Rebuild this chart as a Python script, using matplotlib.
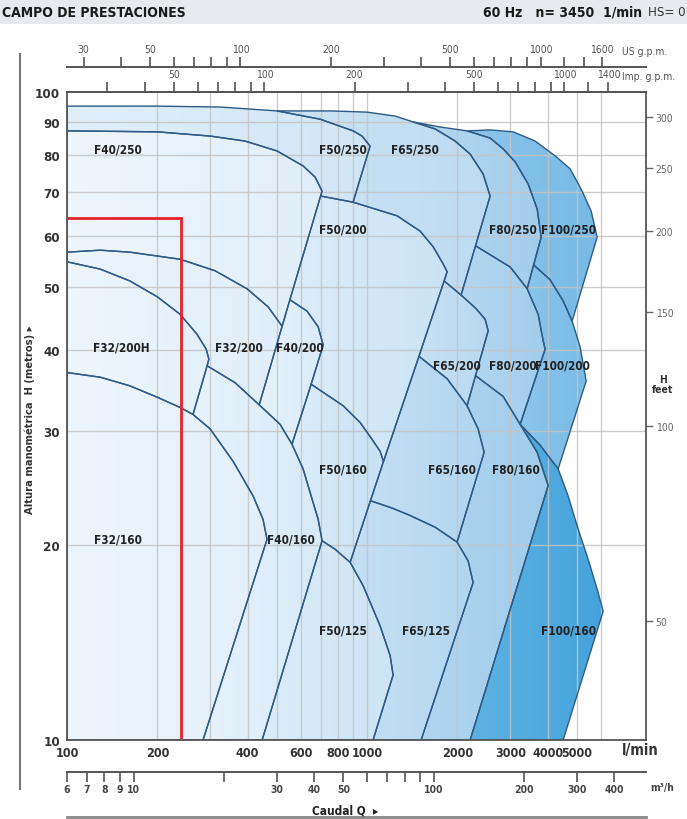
import numpy as np
import matplotlib
matplotlib.use('Agg')
import matplotlib.pyplot as plt
from matplotlib.patches import Polygon, Rectangle
from matplotlib.colors import LinearSegmentedColormap
from matplotlib.lines import Line2D
from matplotlib.ticker import NullLocator

plt.rcParams['font.family'] = ['DejaVu Sans']
plt.rcParams['font.stretch'] = 'condensed'

# chart ranges: flow Q in l/min, head H in m
q_min, q_max = 100, 8500
h_min, h_max = 10, 100

q_ticks = [100, 200, 400, 600, 800, 1000, 2000, 3000, 4000, 5000]
h_ticks = [10, 20, 30, 40, 50, 60, 70, 80, 90, 100]
q_grid = [200, 300, 400, 500, 600, 700, 800, 900, 1000, 2000, 3000, 4000, 5000, 6000]
h_grid = [20, 30, 40, 50, 60, 70, 80, 90]

us_gpm_ticks = [30, 40, 50, 60, 70, 80, 90, 100, 200, 300, 400, 500, 600, 700, 800, 900, 1000, 1200, 1400, 1600]
us_gpm_labels = [30, 50, 100, 200, 500, 1000, 1600]
imp_gpm_ticks = [30, 40, 50, 60, 70, 80, 90, 100, 200, 300, 400, 500, 600, 700, 800, 900, 1000, 1200, 1400]
imp_gpm_labels = [50, 100, 200, 500, 1000, 1400]
m3h_ticks = [6, 7, 8, 9, 10, 20, 30, 40, 50, 60, 70, 80, 90, 100, 200, 300, 400]
m3h_labels = [6, 7, 8, 9, 10, 30, 40, 50, 100, 200, 300, 400]
feet_ticks = [50, 100, 150, 200, 250, 300]

# duty point marked in red
duty_q, duty_h = 240, 64

# upper curves of each field (Q, H), left to right
top_f50_250 = [(100, 95.1), (200, 95.1), (324, 94.8), (501, 93.5), (697, 90.8), (898, 87.1), (962, 85.5), (1023, 82.5)]
top_f40_250 = [(100, 87.1), (200, 86.8), (300, 85.5), (392, 84.0), (501, 81.1), (612, 76.9), (671, 73.9), (708, 70.3)]
top_f65_250 = [(501, 93.5), (753, 93.5), (1000, 93.1), (1240, 91.8), (1424, 89.9), (1686, 87.7), (1965, 84.0),
               (2205, 80.2), (2436, 74.7), (2570, 69.1)]
top_f80_250 = [(1424, 89.9), (1752, 88.3), (2154, 87.1), (2570, 84.9), (2841, 81.7), (3115, 78.0), (3442, 72.1),
               (3687, 66.0), (3802, 59.7)]
top_f100_250 = [(2154, 87.1), (2570, 87.4), (3067, 86.8), (3631, 84.0), (4233, 79.7), (4750, 76.1), (5208, 70.3),
                (5580, 65.5), (5843, 59.7)]

top_f32_200h = [(100, 54.7), (129, 53.3), (162, 51.1), (200, 48.3), (238, 45.4), (271, 42.3), (291, 40.1), (297, 38.7)]
top_f32_200 = [(100, 56.6), (129, 57.0), (162, 56.6), (238, 55.2), (311, 53.0), (398, 49.7), (468, 46.6), (521, 43.5)]
top_f40_200 = [(553, 47.8), (631, 45.9), (687, 43.4), (714, 40.7)]
top_f50_200 = [(700, 69.1), (898, 67.6), (1259, 64.4), (1502, 61.0), (1660, 57.7), (1792, 54.3), (1848, 52.8)]
top_f65_200 = [(1806, 51.1), (2057, 48.6), (2308, 46.3), (2474, 44.6), (2532, 42.8)]
top_f80_200 = [(2298, 57.9), (2998, 53.7), (3415, 49.7), (3715, 45.4), (3862, 41.3), (3920, 40.1)]
top_f100_200 = [(3589, 54.1), (4074, 51.3), (4501, 47.6), (4823, 44.3), (5129, 40.4), (5370, 35.8)]

top_f32_160 = [(100, 36.9), (129, 36.3), (162, 35.2), (200, 33.8), (238, 32.6), (263, 31.8), (300, 30.2), (358, 26.9),
               (417, 23.8), (450, 21.9), (464, 20.4)]
top_f40_160 = [(293, 37.8), (363, 35.6), (437, 32.9), (513, 30.7), (562, 28.6), (612, 26.2), (651, 23.8), (687, 21.9),
               (708, 20.3)]
top_f50_160 = [(651, 35.4), (832, 32.8), (948, 30.9), (1039, 29.1), (1105, 27.9), (1134, 26.9)]
top_f65_160 = [(1489, 39.1), (1848, 36.1), (2154, 32.8), (2344, 30.2), (2455, 27.8)]
top_f80_160 = [(2298, 36.5), (2841, 33.9), (3236, 30.7), (3687, 27.8), (4012, 24.7)]
top_f100_160 = [(3236, 30.7), (3773, 28.5), (4332, 26.2), (4677, 23.8), (5012, 21.4), (5453, 19.0), (5843, 17.1),
                (6118, 15.8)]
top_f50_125 = [(708, 20.3), (782, 19.7), (878, 18.8), (970, 17.3), (1105, 15.0), (1193, 13.5), (1221, 12.6)]
top_f65_125 = [(1026, 23.4), (1212, 22.8), (1392, 22.2), (1686, 21.3), (1995, 20.2), (2171, 18.9), (2256, 17.5)]

# right-hand limit lines, from the nose downwards (with junction points)
edge_s2 = [(708, 70.3), (700, 69.1), (553, 47.8), (521, 43.5), (437, 32.9)]
edge_la = [(1848, 52.8), (1806, 51.1), (1489, 39.1), (1134, 26.9), (1026, 23.4), (878, 18.8)]
edge_f32_200h = [(297, 38.7), (293, 37.8), (263, 31.8)]
edge_f40_200 = [(714, 40.7), (651, 35.4), (562, 28.6)]
edge_f50_250 = [(1023, 82.5), (898, 67.6)]
edge_f65_250 = [(2570, 69.1), (2298, 57.9), (2057, 48.6)]
edge_f65_200 = [(2532, 42.8), (2298, 36.5), (2154, 32.8)]
edge_f80_250 = [(3802, 59.7), (3589, 54.1), (3415, 49.7)]
edge_f80_200 = [(3920, 40.1), (3236, 30.7)]
edge_f100_250 = [(5843, 59.7), (4823, 44.3)]
edge_f100_200 = [(5370, 35.8), (4332, 26.2)]
edge_f32_160 = [(464, 20.4), (284, 10)]
edge_f40_160 = [(708, 20.3), (447, 10)]
edge_f50_125 = [(1221, 12.6), (1047, 10)]
edge_f65_160 = [(2455, 27.8), (1995, 20.2)]
edge_f65_125 = [(2256, 17.5), (1514, 10)]
edge_f80_160 = [(4012, 24.7), (2205, 10)]
edge_f100_160 = [(6118, 15.8), (4501, 10)]


def rev(seq):
    return list(seq)[::-1]


regions = {
    'F40/250': top_f40_250 + edge_s2[1:4] + rev(top_f32_200),
    'F50/250': top_f50_250 + edge_f50_250[1:] + rev(top_f50_200[:2]) + rev(top_f40_250),
    'F65/250': top_f65_250 + edge_f65_250[1:] + rev(top_f65_200[:2]) + rev(edge_la[:2]) + rev(top_f50_200[1:])
               + rev(edge_f50_250) + rev(top_f50_250[3:]),
    'F80/250': top_f80_250 + edge_f80_250[1:] + rev(top_f80_200[:3]) + rev(edge_f65_250[:2]) + rev(top_f65_250[4:]),
    'F100/250': top_f100_250 + edge_f100_250[1:] + rev(top_f100_200[:4]) + rev(edge_f80_250[:2])
                + rev(top_f80_250[2:]),
    'F32/200H': top_f32_200h + edge_f32_200h[1:] + rev(top_f32_160[:6]),
    'F32/200': top_f32_200 + edge_s2[4:] + rev(top_f40_160[:3]) + rev(edge_f32_200h[:2]) + rev(top_f32_200h),
    'F40/200': top_f40_200 + edge_f40_200[1:] + rev(top_f40_160[2:5]) + rev(edge_s2[2:5]),
    'F50/200': top_f50_200 + edge_la[1:4] + rev(top_f50_160) + rev(edge_f40_200[:2]) + rev(top_f40_200)
               + rev(edge_s2[1:3]),
    'F65/200': top_f65_200 + edge_f65_200[1:] + rev(top_f65_160[:3]) + rev(edge_la[1:3]),
    'F80/200': top_f80_200 + edge_f80_200[1:] + rev(top_f80_160[:3]) + rev(edge_f65_200[:2]) + rev(top_f65_200[1:])
               + rev(edge_f65_250[1:]),
    'F100/200': top_f100_200 + edge_f100_200[1:] + rev(top_f100_160[:3]) + rev(edge_f80_200) + rev(top_f80_200[2:])
                + rev(edge_f80_250[1:]),
    'F32/160': top_f32_160 + edge_f32_160[1:] + [(q_min, h_min)],
    'F40/160': top_f40_160 + edge_f40_160[1:] + rev(edge_f32_160) + rev(top_f32_160[5:]) + rev(edge_f32_200h[1:]),
    'F50/160': top_f50_160 + edge_la[3:] + rev(top_f50_125[:3]) + rev(top_f40_160[4:]) + rev(edge_f40_200[1:]),
    'F65/160': top_f65_160 + edge_f65_160[1:] + rev(top_f65_125[:5]) + rev(edge_la[2:5]),
    'F80/160': top_f80_160 + edge_f80_160[1:] + rev(edge_f65_125) + rev(top_f65_125[4:]) + rev(edge_f65_160)
               + rev(top_f65_160[2:]) + rev(edge_f65_200[1:]),
    'F100/160': top_f100_160 + edge_f100_160[1:] + rev(edge_f80_160) + rev(top_f80_160[2:]),
    'F50/125': top_f50_125 + edge_f50_125[1:] + rev(edge_f40_160),
    'F65/125': top_f65_125 + edge_f65_125[1:] + rev(edge_f50_125) + rev(top_f50_125[2:]) + rev(edge_la[4:]),
}

# left/right shade of each field
fills = {
    'F40/250': ('#eef6fc', '#e0eef9'), 'F50/250': ('#e0eef9', '#d1e6f6'), 'F65/250': ('#cbe3f4', '#bcdbf1'),
    'F80/250': ('#b2d6f0', '#a3cdec'), 'F100/250': ('#8cc5ea', '#76b9e5'),
    'F32/200H': ('#eef6fc', '#e3f0fa'), 'F32/200': ('#ebf4fb', '#e0eef9'), 'F40/200': ('#e6f2fb', '#d9ebf8'),
    'F50/200': ('#dcecf8', '#c9e3f4'), 'F65/200': ('#c6e1f3', '#b6d8f0'), 'F80/200': ('#b4d7f0', '#a2cced'),
    'F100/200': ('#8cc5ea', '#78bae5'),
    'F32/160': ('#edf5fc', '#e2eff9'), 'F40/160': ('#e6f2fb', '#d8eaf7'), 'F50/160': ('#dcedf8', '#c6e1f4'),
    'F65/160': ('#c2def3', '#b0d5ef'), 'F80/160': ('#b0d5ef', '#9fcbec'), 'F100/160': ('#5db1e1', '#44a3db'),
    'F50/125': ('#dbecf8', '#cde4f5'), 'F65/125': ('#c4dff3', '#b2d6f0'),
}

label_pos = {
    'F40/250': (148, 81.7), 'F50/250': (832, 81.7), 'F65/250': (1445, 81.7), 'F80/250': (3067, 61.5),
    'F100/250': (4677, 61.5), 'F50/200': (832, 61.5), 'F32/200H': (152, 40.4), 'F32/200': (374, 40.4),
    'F40/200': (598, 40.4), 'F65/200': (1995, 37.9), 'F80/200': (3067, 37.9), 'F100/200': (4467, 37.9),
    'F50/160': (832, 26.2), 'F65/160': (1920, 26.2), 'F80/160': (3126, 26.2), 'F32/160': (148, 20.4),
    'F40/160': (558, 20.4), 'F50/125': (832, 14.8), 'F65/125': (1575, 14.8), 'F100/160': (4677, 14.8),
}

W, H = 687, 820
fig = plt.figure(figsize=(W / 100, H / 100), dpi=100, facecolor='white')


def fx(px):
    return px / W


def fy(py):
    return 1 - py / H


ax = fig.add_axes([fx(67), fy(741), fx(646) - fx(67), fy(93) - fy(741)])
ax.set_xscale('log')
ax.set_yscale('log')

edge_color = '#2d5b86'
for name, verts in regions.items():
    poly = Polygon(verts, closed=True, facecolor='none', edgecolor=edge_color, lw=1.0, zorder=4,
                   joinstyle='round')
    ax.add_patch(poly)
    qs = [v[0] for v in verts]
    xe = np.geomspace(min(qs), max(qs), 41)
    cmap = LinearSegmentedColormap.from_list(name, fills[name])
    mesh = ax.pcolormesh(xe, [h_min, h_max], np.linspace(0, 1, 40)[None, :], cmap=cmap,
                         shading='flat', antialiased=False, linewidth=0, zorder=1)
    mesh.set_clip_path(poly)
    lq, lh = label_pos[name]
    ax.text(lq, lh, name, ha='center', va='center', fontsize=8.5, fontweight='bold', color='#222222', zorder=6)

ax.vlines(q_grid, h_min, h_max, colors='#c4c4c4', lw=1.0, alpha=0.85, zorder=2)
ax.hlines(h_grid, q_min, q_max, colors='#c4c4c4', lw=1.0, alpha=0.85, zorder=2)

ax.plot([q_min, duty_q, duty_q], [duty_h, duty_h, h_min], color='#e3222b', lw=2.0, zorder=5,
        solid_joinstyle='miter')

ax.set_xlim(q_min, q_max)
ax.set_ylim(h_min, h_max)
ax.set_xticks(q_ticks)
ax.set_xticklabels([str(t) for t in q_ticks])
ax.set_yticks(h_ticks)
ax.set_yticklabels([str(t) for t in h_ticks])
ax.xaxis.set_minor_locator(NullLocator())
ax.yaxis.set_minor_locator(NullLocator())
ax.tick_params(axis='both', length=0, labelcolor='#333333')
ax.tick_params(axis='x', pad=4, labelsize=9)
ax.tick_params(axis='y', pad=5, labelsize=9.5)
for lab in ax.get_xticklabels() + ax.get_yticklabels():
    lab.set_fontweight('bold')
for sp in ax.spines.values():
    sp.set_color('#555555')
    sp.set_linewidth(1.3)
    sp.set_zorder(7)


def flow_scale(loc, factor, ticks, labelled, bold):
    sec = ax.secondary_xaxis(loc, functions=(lambda q, f=factor: q / f, lambda v, f=factor: v * f))
    sec.set_xticks(ticks)
    sec.set_xticklabels([str(t) if t in labelled else '' for t in ticks])
    sec.xaxis.set_minor_locator(NullLocator())
    sec.tick_params(axis='x', direction='out', length=7, width=1.1, color='#444444', labelsize=7.5,
                    labelcolor='#444444' if bold else '#555555', pad=2)
    for lab in sec.get_xticklabels():
        lab.set_fontweight('bold' if bold else 'normal')
    for sp in sec.spines.values():
        sp.set_color('#555555')
        sp.set_linewidth(1.4)
    return sec


flow_scale((741 - 68) / 648, 3.785, us_gpm_ticks, us_gpm_labels, False)
flow_scale('top', 4.546, imp_gpm_ticks, imp_gpm_labels, False)
flow_scale(-(773 - 741) / 648, 16.667, m3h_ticks, m3h_labels, True)

feet = ax.secondary_yaxis('right', functions=(lambda h: h / 0.3048, lambda f: f * 0.3048))
feet.set_yticks(feet_ticks)
feet.set_yticklabels([str(t) for t in feet_ticks])
feet.yaxis.set_minor_locator(NullLocator())
feet.tick_params(axis='y', direction='out', length=5, width=1.0, color='#666666', labelsize=7.5,
                 labelcolor='#666666', pad=2)
feet.spines['right'].set_visible(False)

# header band
fig.patches.append(Rectangle((0, fy(25)), 1, fy(0) - fy(25), transform=fig.transFigure,
                             facecolor='#e6e9ee', edgecolor='none', zorder=0))
fig.text(fx(2), fy(13), 'CAMPO DE PRESTACIONES', fontsize=10, fontweight='bold', color='#1a1a1a',
         ha='left', va='center')
fig.text(fx(642), fy(13), '60 Hz   n= 3450  1/min', fontsize=10, fontweight='bold', color='#1a1a1a',
         ha='right', va='center')
fig.text(fx(686), fy(13), 'HS= 0', fontsize=9.5, color='#333333', ha='right', va='center')

fig.text(fx(622), fy(52), 'US g.p.m.', fontsize=7.5, color='#555555', ha='left', va='center')
fig.text(fx(622), fy(77), 'Imp. g.p.m.', fontsize=7.5, color='#555555', ha='left', va='center')
fig.text(fx(640), fy(751), 'l/min', fontsize=10.5, fontweight='bold', color='#333333', ha='center', va='center')
fig.text(fx(662), fy(788), 'm³/h', fontsize=7.5, fontweight='bold', color='#444444', ha='center', va='center')
fig.text(fx(663), fy(385), 'H\nfeet', fontsize=7.5, fontweight='bold', color='#333333', ha='center',
         va='center', linespacing=1.1)
fig.text(fx(30), fy(420), 'Altura manométrica  H (metros) ▸', rotation=90, fontsize=8, fontweight='bold',
         color='#333333', ha='center', va='center')
fig.text(fx(345), fy(811), 'Caudal Q  ▸', fontsize=8.5, fontweight='bold', color='#222222',
         ha='center', va='center')

fig.add_artist(Line2D([fx(20), fx(20)], [fy(55), fy(790)], transform=fig.transFigure, color='#777777', lw=1.5))
fig.add_artist(Line2D([fx(67), fx(646)], [fy(818), fy(818)], transform=fig.transFigure, color='#888888', lw=2.0))

fig.savefig('out.png', dpi=100)
